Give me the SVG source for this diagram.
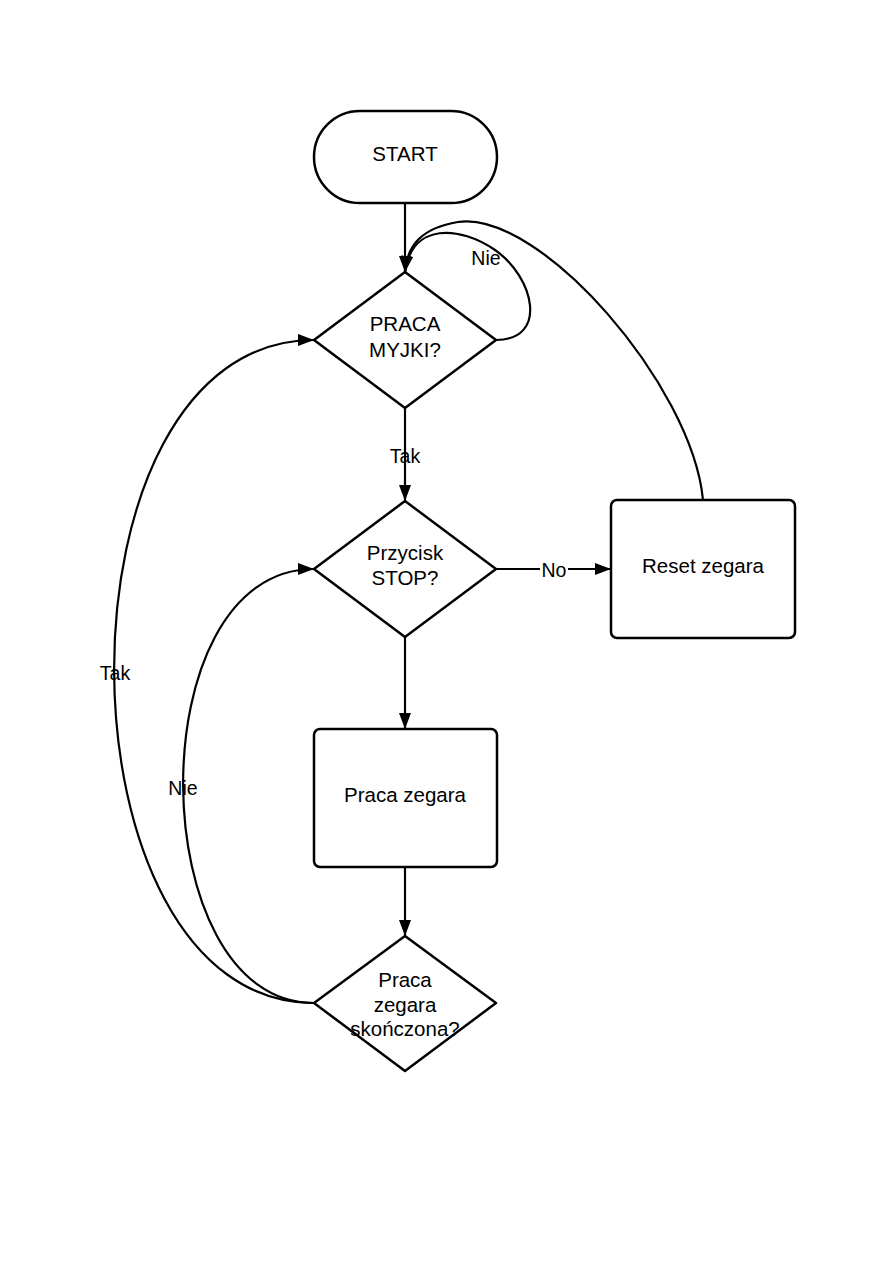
<svg xmlns="http://www.w3.org/2000/svg" width="893" height="1263" viewBox="0 0 893 1263">
<style>
.s{fill:#fff;stroke:#000;stroke-width:2.5;stroke-linejoin:round}
.c{fill:none;stroke:#000;stroke-width:2.2}
.t{font-family:"Liberation Sans",Arial,sans-serif;font-size:20.5px;fill:#000;text-anchor:middle}
.l{font-family:"Liberation Sans",Arial,sans-serif;font-size:19.5px;fill:#000;text-anchor:middle}
</style>
<defs>
<marker id="a" viewBox="0 0 16 12" refX="16" refY="6" markerWidth="16" markerHeight="12" markerUnits="userSpaceOnUse" orient="auto">
<path d="M0,0 L16,6 L0,12 Z" fill="#000"/>
</marker>
</defs>
<rect width="893" height="1263" fill="#fff"/>
<g id="connectors">
<path class="c" d="M405,203 L405,272" marker-end="url(#a)"/>
<path class="c" d="M496,340 C548,340 535,278 495,250 C460,226 412,222 405,272" marker-end="url(#a)"/>
<path class="c" d="M703,500 C692,385 540,210 458,222 C422,228 407,245 405,272" marker-end="url(#a)"/>
<path class="c" d="M405,408 L405,501" marker-end="url(#a)"/>
<path class="c" d="M496,569 L611,569" marker-end="url(#a)"/>
<path class="c" d="M405,637 L405,729" marker-end="url(#a)"/>
<path class="c" d="M405,867 L405,936" marker-end="url(#a)"/>
<path class="c" d="M314,1003 C50,1003 45,340 314,340" marker-end="url(#a)"/>
<path class="c" d="M314,1003 C142,1003 137,569 314,569" marker-end="url(#a)"/>
<text class="l" x="486" y="265">Nie</text>
<text class="l" x="405" y="463">Tak</text>
<rect x="540" y="560" width="28" height="20" fill="#fff"/>
<text class="l" x="554" y="577">No</text>
<text class="l" x="115" y="680">Tak</text>
<text class="l" x="183" y="795">Nie</text>
</g>
<g id="start">
<rect class="s" x="314" y="111" width="183" height="92" rx="46" ry="46"/>
<text class="t" x="405" y="161">START</text>
</g>
<g id="praca-myjki">
<path class="s" d="M405,272 L496,340 L405,408 L314,340 Z"/>
<text class="t" x="405" y="331">PRACA</text>
<text class="t" x="405" y="357">MYJKI?</text>
</g>
<g id="przycisk-stop">
<path class="s" d="M405,501 L496,569 L405,637 L314,569 Z"/>
<text class="t" x="405" y="560">Przycisk</text>
<text class="t" x="405" y="585">STOP?</text>
</g>
<g id="reset-zegara">
<rect class="s" x="611" y="500" width="184" height="138" rx="6"/>
<text class="t" x="703" y="573">Reset zegara</text>
</g>
<g id="praca-zegara">
<rect class="s" x="314" y="729" width="183" height="138" rx="6"/>
<text class="t" x="405" y="802">Praca zegara</text>
</g>
<g id="praca-zegara-skonczona">
<path class="s" d="M405,936 L496,1003 L405,1071 L314,1003 Z"/>
<text class="t" x="405" y="987">Praca</text>
<text class="t" x="405" y="1012">zegara</text>
<text class="t" x="405" y="1036">skończona?</text>
</g>
</svg>
